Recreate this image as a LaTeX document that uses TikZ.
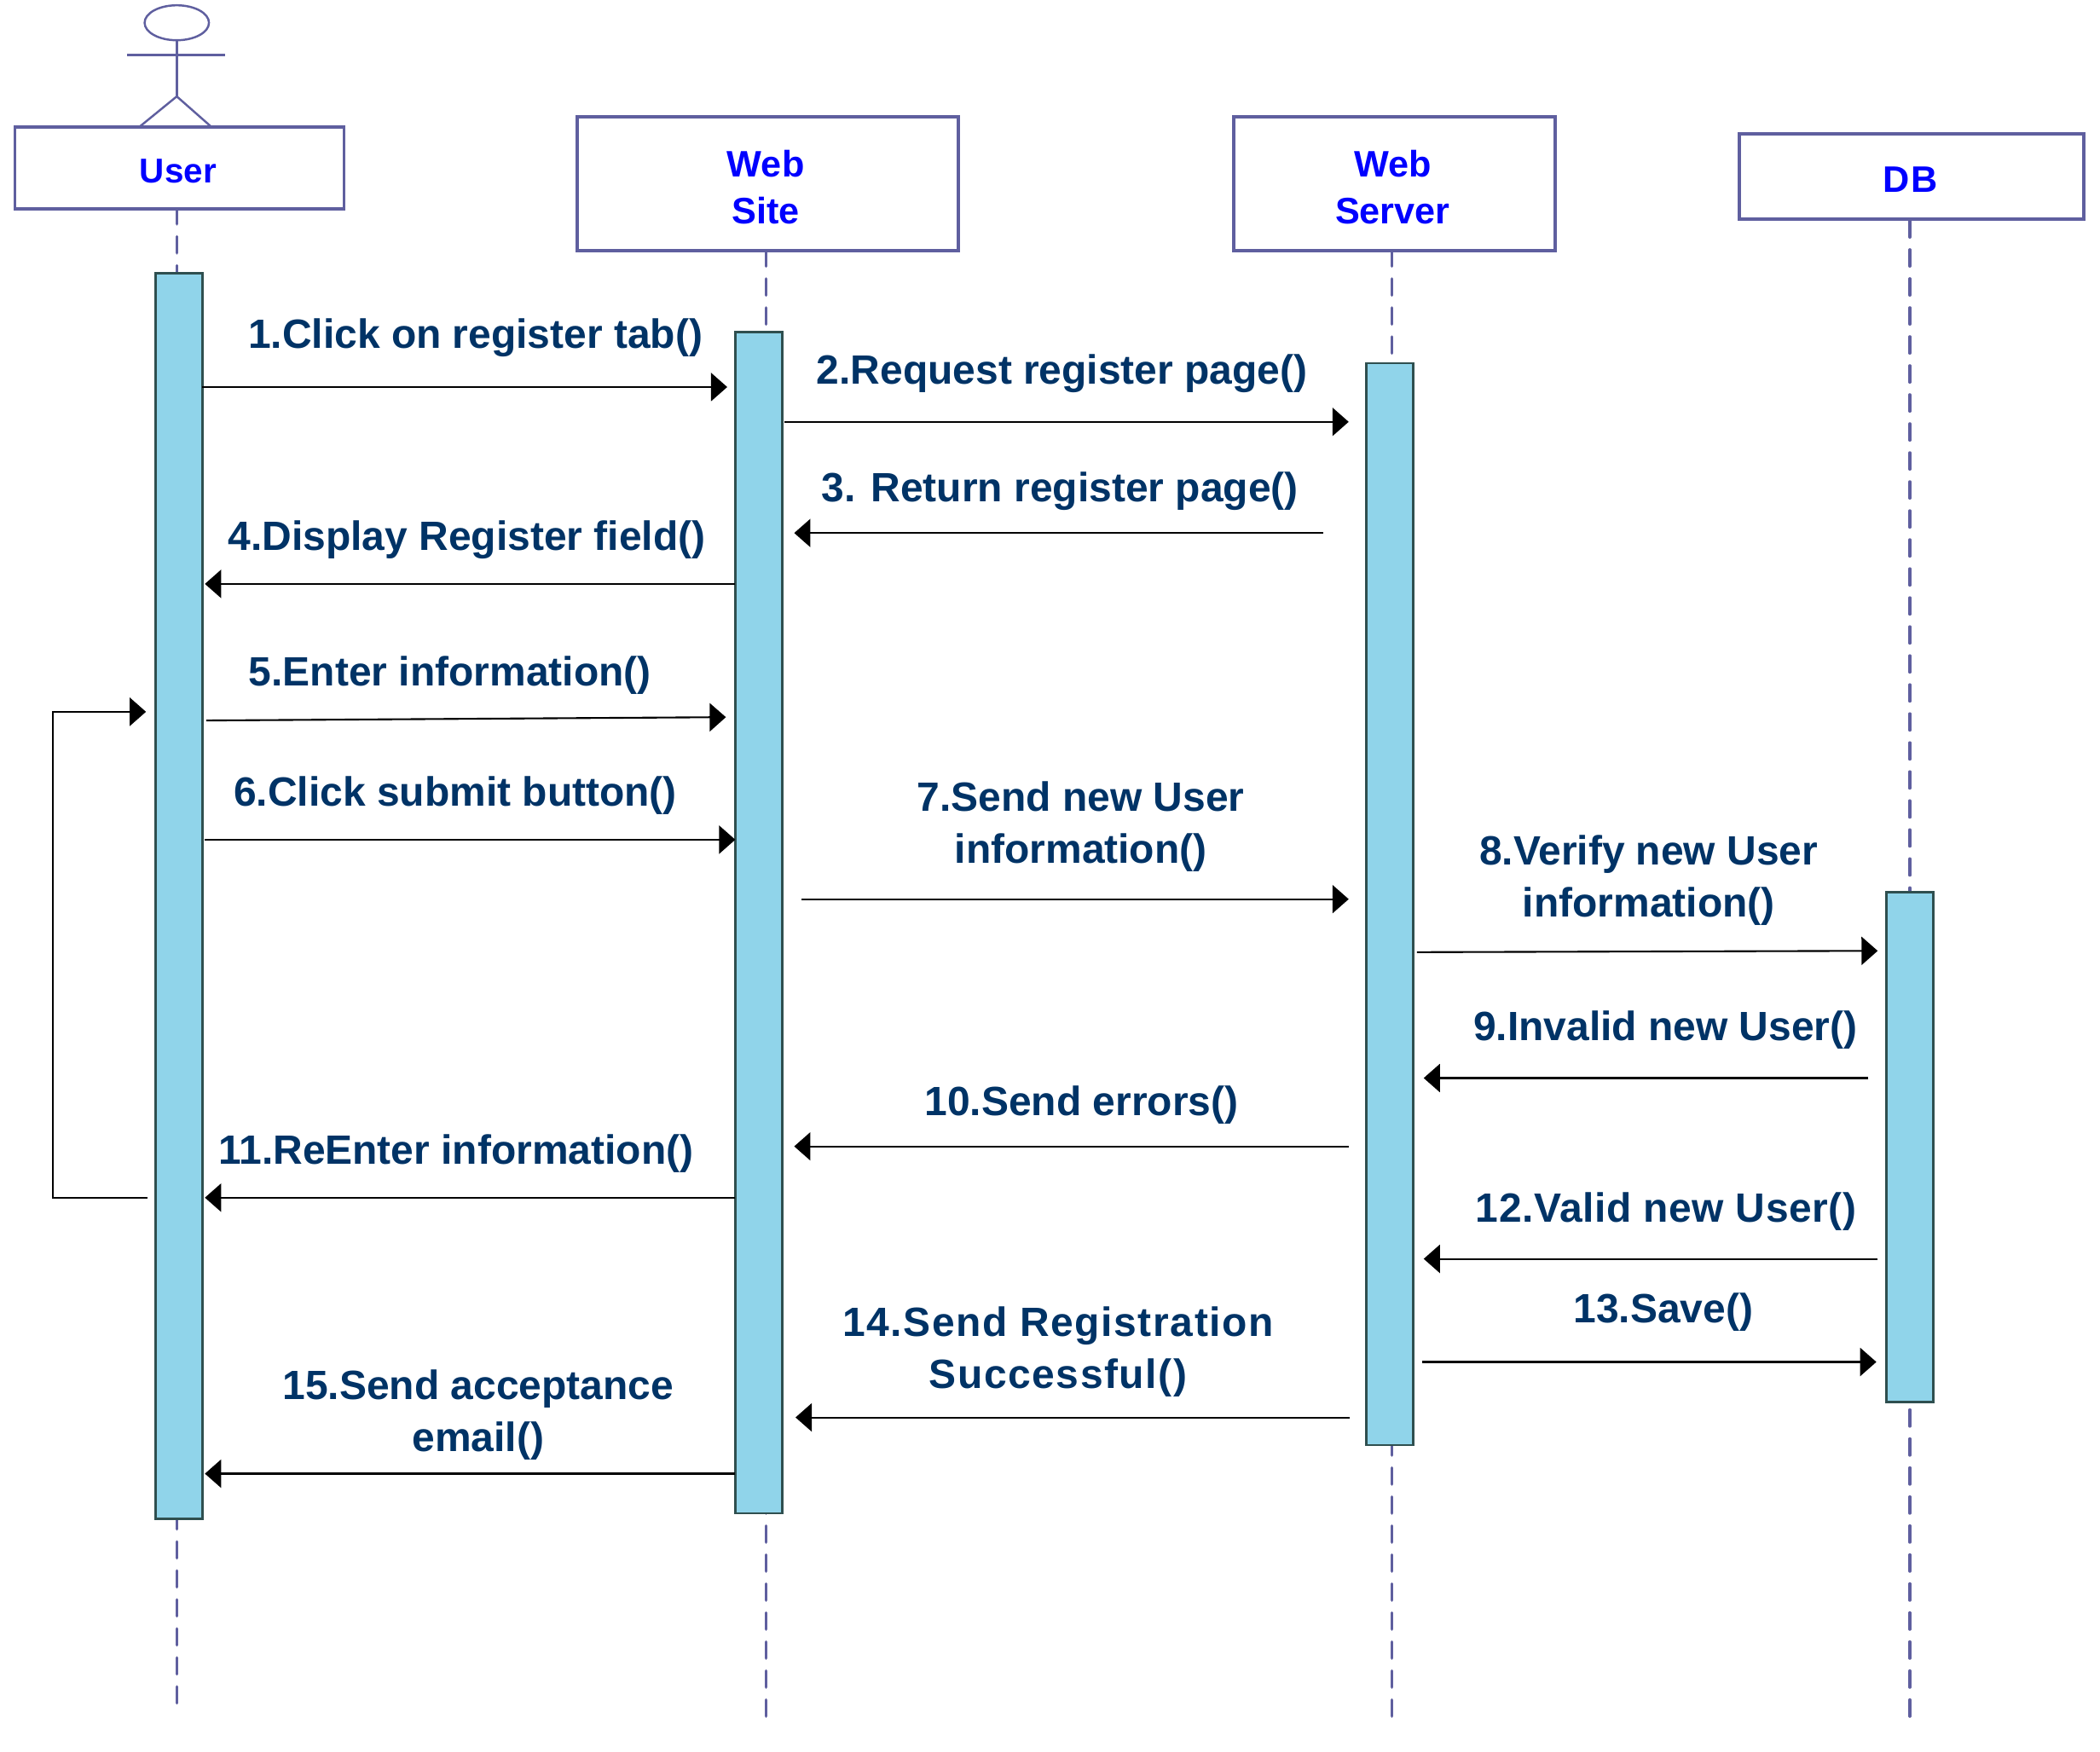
\documentclass[tikz,border=0pt]{standalone}
\usepackage{fontspec}
\setmainfont{Liberation Sans}
\usetikzlibrary{arrows.meta,shapes.geometric}
\definecolor{headline}{HTML}{5F5F9F}
\definecolor{barfill}{HTML}{90D4EA}
\definecolor{barline}{HTML}{2F4F4F}
\definecolor{msgtext}{HTML}{003366}
\tikzset{
	headbox/.style={draw=headline, line width=1.1pt, fill=white, inner sep=0pt},
	headtxt/.style={text=blue, font=\fontsize{12.3}{15.9}\selectfont\bfseries, align=center, inner sep=0pt},
	actorline/.style={draw=headline, line width=0.7pt},
	lifeline/.style={draw=headline, line width=1pt, line cap=round, dash pattern=on 5.5pt off 4.18pt},
	actbar/.style={draw=barline, line width=0.7pt, fill=barfill, minimum width=0.55cm, inner sep=0pt},
	msg/.style={line width=0.6pt, -{Triangle[length=1.9mm,width=3.3mm]}},
	msgtxt/.style={text=msgtext, font=\fontsize{13.65}{17.4}\selectfont\bfseries, align=center, inner sep=0pt},
	msgwide/.style={msgtxt, font=\fontsize{13.65}{17.4}\selectfont\bfseries\addfontfeature{LetterSpace=#1}}
}

\begin{document}
\begin{tikzpicture}[x=0.1571mm, y=-0.1571mm]
	\useasboundingbox (0, 0) rectangle (1568, 1308);

	%%%%% ACTOR %%%%%
	\node[actorline, draw, ellipse, minimum width=0.755cm, minimum height=0.41cm, inner sep=0pt] (head) at (132, 17) {};
	\coordinate (hip) at (132, 72);
	\coordinate (armL) at (95, 41);
	\coordinate (armR) at (168, 41);
	\coordinate (footL) at (105, 94);
	\coordinate (footR) at (157, 94);
	\draw[actorline] (head.south) -- (hip);
	\draw[actorline] (armL) -- (armR);
	\draw[actorline] (footL) -- (hip) -- (footR);

	%%%%% LIFELINES %%%%%
	\coordinate (userEnd) at (132, 1272);
	\coordinate (siteEnd) at (572, 1283);
	\coordinate (serverEnd) at (1039.4, 1283);
	\coordinate (dbEnd) at (1426, 1283);
	\coordinate (userTop) at (132, 155);
	\coordinate (siteTop) at (572, 186.5);
	\coordinate (serverTop) at (1039.4, 186.5);
	\coordinate (dbTop) at (1426, 164.8);
	\draw[lifeline] (userTop) -- (userEnd);
	\draw[lifeline] (siteTop) -- (siteEnd);
	\draw[lifeline] (serverTop) -- (serverEnd);
	\draw[lifeline] (dbTop) -- (dbEnd);

	%%%%% HEADS %%%%%
	\node[headbox, minimum width=3.86cm, minimum height=0.96cm] (user) at (134, 125.5) {};
	\node[headbox, minimum width=4.47cm, minimum height=1.57cm] (site) at (573.5, 137) {};
	\node[headbox, minimum width=3.77cm, minimum height=1.57cm] (server) at (1041, 137) {};
	\node[headbox, minimum width=4.04cm, minimum height=1cm] (db) at (1427.5, 132) {};
	\node[headtxt, font=\fontsize{11.5}{15}\selectfont\bfseries] (userTxt) at (133, 128) {User};
	\node[headtxt] (siteTxt) at (571.8, 139.8) {Web\\Site};
	\node[headtxt] (serverTxt) at (1039.8, 139.8) {Web\\Server};
	\node[headtxt, font=\fontsize{12.3}{15.9}\selectfont\bfseries\addfontfeature{LetterSpace=5}] (dbTxt) at (1426.5, 134) {DB};

	%%%%% BARS %%%%%
	\node[actbar, minimum height=14.61cm] (userBar) at (133.7, 669) {};
	\node[actbar, minimum height=13.86cm] (siteBar) at (566.5, 689) {};
	\node[actbar, minimum height=12.69cm] (serverBar) at (1037.7, 675) {};
	\node[actbar, minimum height=5.98cm] (dbBar) at (1426, 856.5) {};

	%%%%% MESSAGES %%%%%
	\coordinate (m1a) at (151, 289);
	\coordinate (m1b) at (543, 289);
	\draw[msg] (m1a) -- (m1b);
	\node[msgtxt] (t1) at (355, 252) {1.Click on register tab()};

	\coordinate (m2a) at (586, 315);
	\coordinate (m2b) at (1007, 315);
	\draw[msg] (m2a) -- (m2b);
	\node[msgtxt] (t2) at (793, 279) {2.Request register page()};

	\coordinate (m3a) at (988, 398);
	\coordinate (m3b) at (593, 398);
	\draw[msg] (m3a) -- (m3b);
	\node[msgtxt] (t3) at (791.5, 367) {3. Return register page()};

	\coordinate (m4a) at (549, 436);
	\coordinate (m4b) at (153, 436);
	\draw[msg] (m4a) -- (m4b);
	\node[msgtxt] (t4) at (348.5, 403) {4.Display Register field()};

	\coordinate (m5a) at (154, 538);
	\coordinate (m5b) at (542, 535.5);
	\draw[msg] (m5a) -- (m5b);
	\node[msgtxt] (t5) at (336, 504) {5.Enter information()};

	\coordinate (m6a) at (153, 627);
	\coordinate (m6b) at (549, 627);
	\draw[msg] (m6a) -- (m6b);
	\node[msgtxt] (t6) at (340, 594) {6.Click submit button()};

	\coordinate (m7a) at (598.5, 671.4);
	\coordinate (m7b) at (1007, 671.4);
	\draw[msg] (m7a) -- (m7b);
	\node[msgtxt] (t7) at (807, 617.5) {7.Send new User\\information()};

	\coordinate (m8a) at (1058, 711);
	\coordinate (m8b) at (1402, 710);
	\draw[msg] (m8a) -- (m8b);
	\node[msgtxt] (t8) at (1231, 657.5) {8.Verify new User\\information()};

	\coordinate (m9a) at (1395, 805);
	\coordinate (m9b) at (1063, 805);
	\draw[msg] (m9a) -- (m9b);
	\node[msgtxt] (t9) at (1243.5, 769) {9.Invalid new User()};

	\coordinate (m10a) at (1007, 856);
	\coordinate (m10b) at (593, 856);
	\draw[msg] (m10a) -- (m10b);
	\node[msgtxt] (t10) at (807.5, 825) {10.Send errors()};

	\coordinate (m11a) at (549, 894.3);
	\coordinate (m11b) at (153, 894.3);
	\draw[msg] (m11a) -- (m11b);
	\node[msgtxt] (t11) at (340.5, 861.5) {11.ReEnter information()};

	\coordinate (m12a) at (1402, 940);
	\coordinate (m12b) at (1063, 940);
	\draw[msg] (m12a) -- (m12b);
	\node[msgwide=1.2] (t12) at (1244, 904.5) {12.Valid new User()};

	\coordinate (m13a) at (1062, 1017);
	\coordinate (m13b) at (1401, 1017);
	\draw[msg] (m13a) -- (m13b);
	\node[msgtxt] (t13) at (1242, 980) {13.Save()};

	\coordinate (m14a) at (1008, 1058.4);
	\coordinate (m14b) at (594, 1058.4);
	\draw[msg] (m14a) -- (m14b);
	\node[msgwide=3.3] (t14) at (790, 1009.5) {14.Send Registration\\Successful()};

	\coordinate (m15a) at (549, 1100.4);
	\coordinate (m15b) at (153, 1100.4);
	\draw[msg] (m15a) -- (m15b);
	\node[msgtxt] (t15) at (357, 1056.5) {15.Send acceptance\\email()};

	%%%%% LOOP %%%%%
	\coordinate (loopA) at (110, 894.3);
	\coordinate (loopB) at (39.5, 894.3);
	\coordinate (loopC) at (39.5, 531.5);
	\coordinate (loopD) at (109, 531.5);
	\draw[msg] (loopA) -- (loopB) -- (loopC) -- (loopD);
\end{tikzpicture}
\end{document}
